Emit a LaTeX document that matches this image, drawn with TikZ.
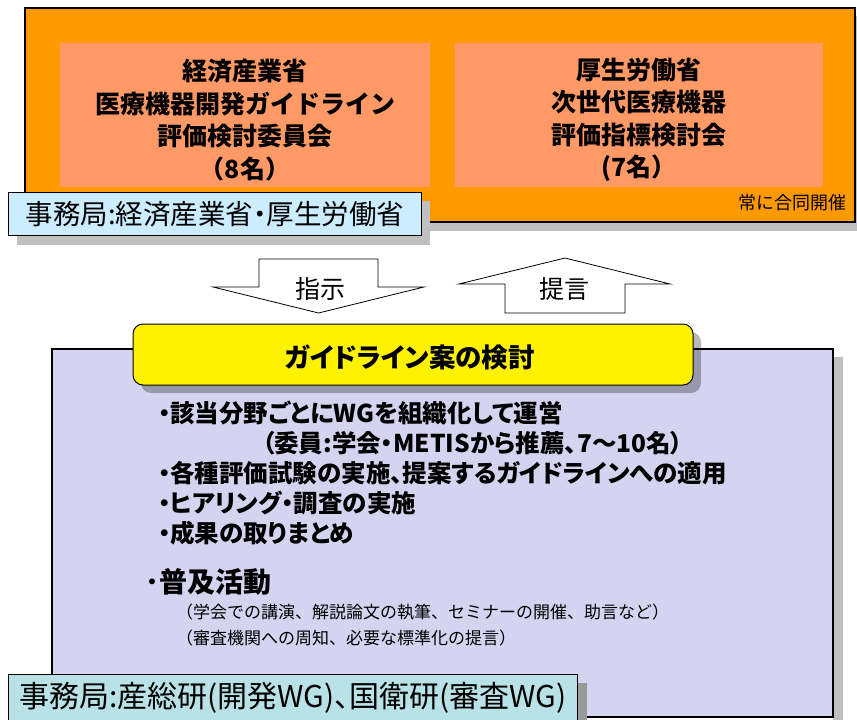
\documentclass[tikz,border=0pt]{standalone}
\usepackage{fontspec}
\setmainfont{Noto Sans CJK JP}
\newfontfamily\prop{Noto Sans CJK JP}[RawFeature=+palt]
\definecolor{orangebg}{RGB}{255,153,0}
\definecolor{salmon}{RGB}{255,153,102}
\definecolor{lightblue}{RGB}{204,236,255}
\definecolor{lavender}{RGB}{212,212,240}
\definecolor{teal}{RGB}{185,226,230}
\definecolor{shadowgray}{RGB}{192,192,192}
\tikzset{
  title/.style={font=\bfseries\fontsize{25}{32.5}\selectfont, align=center, inner sep=0pt},
  secbox/.style={draw=black, line width=1pt},
  blockarrow/.style={draw=black, fill=white, line width=0.8pt, line join=miter},
  bullet/.style={anchor=west, inner sep=0pt, font=\prop\bfseries\fontsize{24.5}{24.5}\selectfont},
  subline/.style={anchor=west, inner sep=0pt, font=\fontsize{17}{17}\selectfont},
}
\begin{document}
\begin{tikzpicture}[x=1pt,y=-1pt]
\useasboundingbox (0,0) rectangle (857,720);
% top orange box
\fill[shadowgray] (33,16) rectangle (863,231);
\draw[fill=orangebg, draw=black, line width=1.6pt] (25,8) rectangle (855,222);
\fill[salmon] (60,43) rectangle (430,187);
\fill[salmon] (455,43) rectangle (823,187);
\node[title] (meti) at (245,120) {経済産業省\\医療機器開発ガイドライン\\評価検討委員会\\（8名）};
\node[title] (mhlw) at (639,120) {厚生労働省\\次世代医療機器\\評価指標検討会\\(7名）};
\node[anchor=east, inner sep=0pt, font=\fontsize{18}{18}\selectfont] (joint) at (847,203) {常に合同開催};
% secretariat 1
\fill[shadowgray] (17,201) rectangle (430,245);
\draw[secbox, fill=lightblue] (8,192) rectangle (421,235);
\node[inner sep=0pt, font=\prop\fontsize{27.5}{27.5}\selectfont] (sec1) at (215,214) {事務局:経済産業省・厚生労働省};
% arrows
\draw[blockarrow] (259,259) -- (378,259) -- (378,287) -- (424,287) -- (318.5,313) -- (213,287) -- (259,287) -- cycle;
\node[inner sep=0pt, font=\fontsize{25}{25}\selectfont] (shiji) at (320,289) {指示};
\draw[blockarrow] (505,313) -- (625,313) -- (625,284) -- (670,284) -- (565,258) -- (459,284) -- (505,284) -- cycle;
\node[inner sep=0pt, font=\fontsize{25}{25}\selectfont] (teigen) at (564,289) {提言};
% lavender box
\fill[shadowgray] (833,357) rectangle (843,720);
\draw[fill=lavender, draw=black, line width=2pt] (52,349) rectangle (833,717);
% yellow box
\fill[black, opacity=0.28, rounded corners=10pt] (141,332) rectangle (701,393);
\draw[fill=yellow, draw=black, line width=1pt, rounded corners=10pt] (133,324) rectangle (693,385);
\node[inner sep=0pt, font=\prop\bfseries\fontsize{26.5}{26.5}\selectfont] (kento) at (410,357) {ガイドライン案の検討};
% bullets
\node[bullet] (b1) at (158,413) {・該当分野ごとにWGを組織化して運営};
\node[bullet] (b2) at (262,443) {（委員:学会・METISから推薦、7～10名）};
\node[bullet] (b3) at (158,473) {・各種評価試験の実施、提案するガイドラインへの適用};
\node[bullet] (b4) at (158,503) {・ヒアリング・調査の実施};
\node[bullet] (b5) at (158,533) {・成果の取りまとめ};
\node[bullet, font=\prop\bfseries\fontsize{28}{28}\selectfont] (b6) at (145,582) {･普及活動};
\node[subline] (s1) at (176,612) {（学会での講演、解説論文の執筆、セミナーの開催、助言など）};
\node[subline] (s2) at (176,638) {（審査機関への周知、必要な標準化の提言）};
% secretariat 2
\fill[shadowgray!80!black] (577,683) rectangle (587,722);
\draw[secbox, fill=teal] (8,674) rectangle (577,722);
\node[inner sep=0pt, font=\prop\fontsize{30}{30}\selectfont] (sec2) at (293,698) {事務局:産総研(開発WG)、国衛研(審査WG)};
\end{tikzpicture}
\end{document}
